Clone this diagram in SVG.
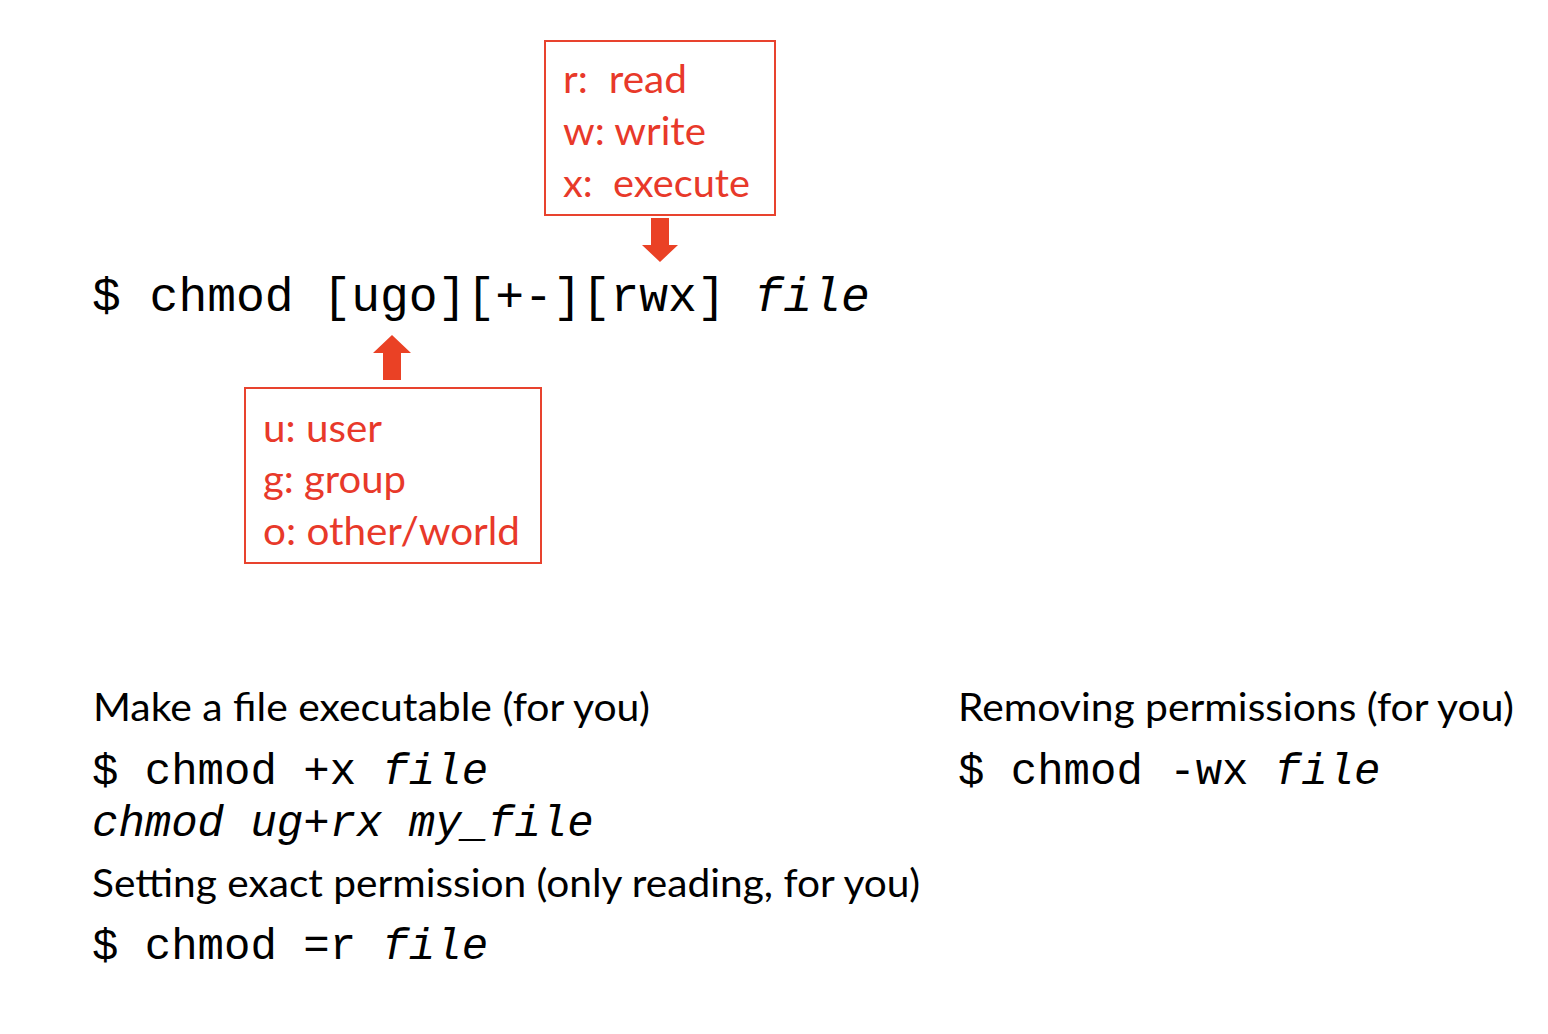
<svg xmlns="http://www.w3.org/2000/svg" width="1548" height="1034" viewBox="0 0 1548 1034">
<style>
.mono{font-family:"Liberation Mono","Courier New",monospace;fill:#000}
.it{font-style:italic}
.sans{font-family:Lato,"Liberation Sans",Arial,sans-serif;fill:#000;font-size:38px}
.red{font-family:Lato,"Liberation Sans",Arial,sans-serif;fill:#e8392a;font-size:38px}
.box{fill:#fff;stroke:#e8432e;stroke-width:2}
.arrow{fill:#ea4125}
</style>
<rect width="1548" height="1034" fill="#fff"/>
<g id="command">
<text class="mono" x="92" y="311" font-size="48" xml:space="preserve">$ chmod [ugo][+-][rwx] <tspan class="it">file</tspan></text>
</g>
<g id="perm-box">
<rect class="box" x="545" y="41" width="230" height="174"/>
<text class="red" x="563" y="93" textLength="124" lengthAdjust="spacingAndGlyphs" xml:space="preserve">r:  read</text>
<text class="red" x="563" y="145" textLength="143" lengthAdjust="spacingAndGlyphs">w: write</text>
<text class="red" x="563" y="197" textLength="187" lengthAdjust="spacingAndGlyphs" xml:space="preserve">x:  execute</text>
</g>
<g id="who-box">
<rect class="box" x="245" y="388" width="296" height="175"/>
<text class="red" x="263" y="442" textLength="119" lengthAdjust="spacingAndGlyphs">u: user</text>
<text class="red" x="263" y="493" textLength="143" lengthAdjust="spacingAndGlyphs">g: group</text>
<text class="red" x="263" y="545" textLength="257" lengthAdjust="spacingAndGlyphs">o: other/world</text>
</g>
<g id="connectors">
<polygon class="arrow" points="651,218 669,218 669,245 678,245 660,262 642,245 651,245"/>
<polygon class="arrow" points="392,335 411,353 401,353 401,380 383,380 383,353 373,353"/>
</g>
<g id="make-exec">
<text class="sans" x="93" y="721" textLength="557" lengthAdjust="spacingAndGlyphs">Make a file executable (for you)</text>
<text class="mono" x="92" y="784" font-size="44" xml:space="preserve">$ chmod +x <tspan class="it">file</tspan></text>
<text class="mono it" x="92" y="836" font-size="44">chmod ug+rx my_file</text>
</g>
<g id="set-exact">
<text class="sans" x="92" y="897" textLength="828" lengthAdjust="spacingAndGlyphs">Setting exact permission (only reading, for you)</text>
<text class="mono" x="92" y="959" font-size="44" xml:space="preserve">$ chmod =r <tspan class="it">file</tspan></text>
</g>
<g id="remove">
<text class="sans" x="958" y="721" textLength="556" lengthAdjust="spacingAndGlyphs">Removing permissions (for you)</text>
<text class="mono" x="958" y="784" font-size="44" xml:space="preserve">$ chmod -wx <tspan class="it">file</tspan></text>
</g>
</svg>
